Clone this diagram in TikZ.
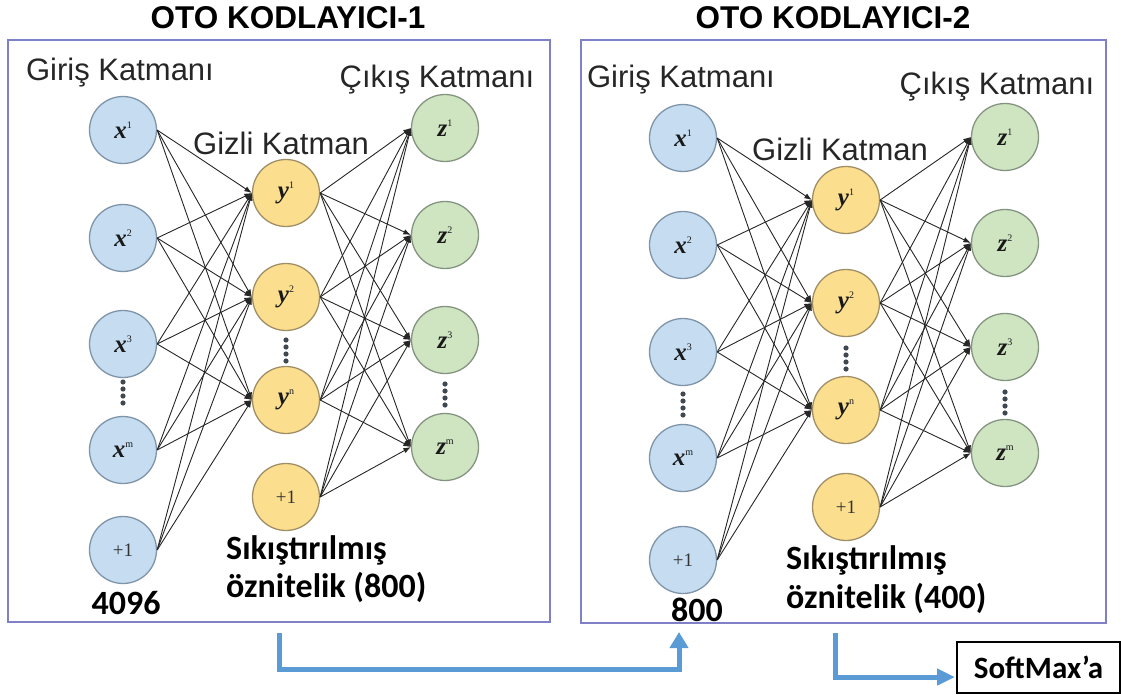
\documentclass[tikz,border=0pt]{standalone}
\usepackage{fontspec}
\setmainfont{Liberation Sans}
\newfontfamily\unitserif{Liberation Serif}
\newfontfamily\calibfont{Carlito}
\usetikzlibrary{arrows.meta}

\definecolor{inblue}{HTML}{C5DCF1}
\definecolor{inborder}{HTML}{8094A8}
\definecolor{hidyellow}{HTML}{FCDF8E}
\definecolor{hidborder}{HTML}{A08E66}
\definecolor{outgreen}{HTML}{CFE5C2}
\definecolor{outborder}{HTML}{849480}
\definecolor{panelborder}{HTML}{8080C8}
\definecolor{flowblue}{HTML}{5B9BD5}
\definecolor{dotgrey}{HTML}{404850}

% letter with a small upright index, as printed in the units
\newcommand{\unitlbl}[2]{{\bfseries\itshape #1}\raisebox{0.42em}{\upshape\fontsize{10}{10}\selectfont #2}}

\tikzset{
  unit/.style={circle, minimum size=67pt, inner sep=0pt, line width=1.3pt,
               font=\unitserif\fontsize{25}{25}\selectfont, text=black!90},
  inunit/.style={unit, fill=inblue, draw=inborder},
  hidunit/.style={unit, fill=hidyellow, draw=hidborder},
  outunit/.style={unit, fill=outgreen, draw=outborder},
  biasunit/.style={font=\unitserif\fontsize{19}{19}\selectfont, text=black!80},
  link/.style={draw=black!85, line width=0.9pt, -{Latex[length=7.5pt,width=5.5pt]}},
  layerlabel/.style={font=\fontsize{31}{31}\selectfont, text=black!85, inner sep=0pt},
  paneltitle/.style={font=\bfseries\fontsize{31.5}{31.5}\selectfont, inner sep=0pt},
  note/.style={font=\calibfont\bfseries\fontsize{34}{36}\selectfont, inner sep=0pt, anchor=west},
  count/.style={font=\calibfont\bfseries\fontsize{34}{34}\selectfont, inner sep=0pt},
  panel/.style={draw=panelborder, line width=1.5pt},
  flow/.style={draw=flowblue, line width=5pt},
}

\begin{document}
\begin{tikzpicture}[x=1pt, y=-1pt]
\useasboundingbox (0,0) rectangle (1121,695);

% ---------- panel frames and titles ----------
\draw[panel] (8,40) rectangle (550,622);
\draw[panel] (581,40) rectangle (1106,623);
\node[paneltitle] (t1) at (288,18) {OTO KODLAYICI-1};
\node[paneltitle] (t2) at (833,18) {OTO KODLAYICI-2};

% ---------- first autoencoder ----------
\node[inunit] (a-x1) at (123,130) {\unitlbl{x}{1}};
\node[inunit] (a-x2) at (123,238) {\unitlbl{x}{2}};
\node[inunit] (a-x3) at (123,344) {\unitlbl{x}{3}};
\node[inunit] (a-xm) at (123,450) {\unitlbl{x}{m}};
\node[inunit, biasunit] (a-xb) at (123,550) {+1};
\node[hidunit] (a-y1) at (286,193) {\unitlbl{y}{1}};
\node[hidunit] (a-y2) at (286,297) {\unitlbl{y}{2}};
\node[hidunit] (a-yn) at (286,400) {\unitlbl{y}{n}};
\node[hidunit, biasunit] (a-yb) at (286,497) {+1};
\node[outunit] (a-z1) at (445,128) {\unitlbl{z}{1}};
\node[outunit] (a-z2) at (445,235) {\unitlbl{z}{2}};
\node[outunit] (a-z3) at (445,340) {\unitlbl{z}{3}};
\node[outunit] (a-zm) at (445,447) {\unitlbl{z}{m}};

\node[layerlabel] (a-lin) at (120,73) {Giriş Katmanı};
\node[layerlabel] (a-lhid) at (281,143) {Gizli Katman};
\node[layerlabel] (a-lout) at (437,80) {Çıkış Katmanı};
\node[note] (a-n1) at (226,550) {Sıkıştırılmış};
\node[note] (a-n2) at (226,587) {öznitelik (800)};
\node[count] (a-cnt) at (126,603) {4096};

\foreach \k in {0,...,3} {
  \fill[dotgrey] (123,382+7*\k) circle (2.6pt);
  \fill[dotgrey] (286,340+7*\k) circle (2.6pt);
  \fill[dotgrey] (445,384+7*\k) circle (2.6pt);
}

% ---------- second autoencoder ----------
\node[inunit] (b-x1) at (683,138) {\unitlbl{x}{1}};
\node[inunit] (b-x2) at (683,245) {\unitlbl{x}{2}};
\node[inunit] (b-x3) at (683,352) {\unitlbl{x}{3}};
\node[inunit] (b-xm) at (683,458) {\unitlbl{x}{m}};
\node[inunit, biasunit] (b-xb) at (683,560) {+1};
\node[hidunit] (b-y1) at (846,200) {\unitlbl{y}{1}};
\node[hidunit] (b-y2) at (846,303) {\unitlbl{y}{2}};
\node[hidunit] (b-yn) at (846,410) {\unitlbl{y}{n}};
\node[hidunit, biasunit] (b-yb) at (846,507) {+1};
\node[outunit] (b-z1) at (1005,137) {\unitlbl{z}{1}};
\node[outunit] (b-z2) at (1005,243) {\unitlbl{z}{2}};
\node[outunit] (b-z3) at (1005,347) {\unitlbl{z}{3}};
\node[outunit] (b-zm) at (1005,453) {\unitlbl{z}{m}};

\node[layerlabel] (b-lin) at (681,80) {Giriş Katmanı};
\node[layerlabel] (b-lhid) at (840,149) {Gizli Katman};
\node[layerlabel] (b-lout) at (997,87) {Çıkış Katmanı};
\node[note] (b-n1) at (786,560) {Sıkıştırılmış};
\node[note] (b-n2) at (786,598) {öznitelik (400)};
\node[count] (b-cnt) at (697,610) {800};

\foreach \k in {0,...,3} {
  \fill[dotgrey] (683,394+7*\k) circle (2.6pt);
  \fill[dotgrey] (846,348+7*\k) circle (2.6pt);
  \fill[dotgrey] (1005,392+7*\k) circle (2.6pt);
}

% ---------- fully connected weights ----------
\foreach \p in {a,b} {
  \foreach \s in {x1,x2,x3,xm,xb}
    \foreach \t in {y1,y2,yn}
      \draw[link] (\p-\s.east) -- (\p-\t.west);
  \foreach \s in {y1,y2,yn,yb}
    \foreach \t in {z1,z2,z3,zm}
      \draw[link] (\p-\s.east) -- (\p-\t.west);
}

% ---------- data flow between the stages ----------
\node[draw, line width=1.5pt, minimum width=163pt, minimum height=51pt, inner sep=0pt,
      font=\calibfont\bfseries\fontsize{31}{31}\selectfont] (softmax) at (1038.5,667.5) {SoftMax’a};

\coordinate (f1s) at (279,633);
\coordinate (f1e) at (679,632);
\coordinate (f2s) at (835,633);
\coordinate (f2e) at (955,677);
\draw[flow, -{Triangle[length=16pt,width=18pt]}] (f1s) -- ++(0,36) -| (f1e);
\draw[flow, -{Triangle[length=18pt,width=16pt]}] (f2s) |- (f2e);
\end{tikzpicture}
\end{document}
